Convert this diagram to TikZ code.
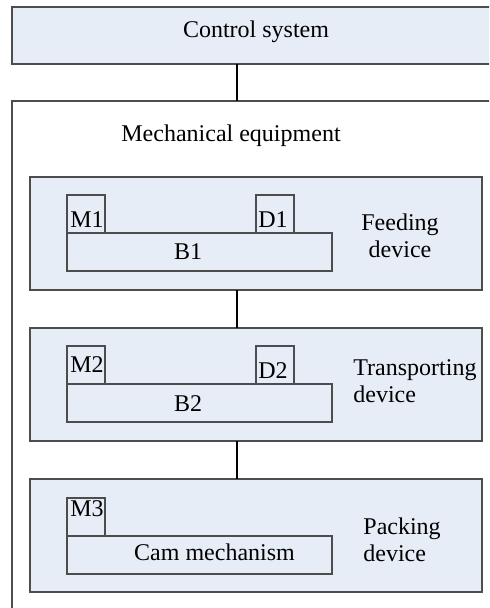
\documentclass[tikz,border=0pt]{standalone}
\usepackage{fontspec}
\setmainfont{Liberation Serif}
\usetikzlibrary{positioning}
\definecolor{pkFill}{HTML}{E7EDF7}
\definecolor{pkLine}{HTML}{4D4D4D}

\begin{document}
\begin{tikzpicture}[
  x=0.5pt, y=-0.5pt, font=\fontsize{12}{13.5}\selectfont,
  box/.style={draw=pkLine, line width=0.6pt, fill=pkFill, inner sep=0pt,
              outer sep=0pt, anchor=north west},
  unit/.style={box, minimum width=226pt, minimum height=56.5pt},
  part/.style={box, minimum width=19pt, minimum height=19pt},
  bar/.style={box, minimum width=132.5pt, minimum height=19pt},
  lbl/.style={inner sep=0pt, anchor=base},
  tag/.style={lbl, anchor=base west},
  ln/.style={draw=black, line width=0.6pt},
]
\useasboundingbox (0,0) rectangle (489,608);
\clip (0,0) rectangle (489,608);

% control and outer frame
\node[box, minimum width=244pt, minimum height=28.5pt] (ctrlbox) at (12,7) {};
\node[box, fill=white, minimum width=244pt, minimum height=259.5pt] (mech) at (12,101) {};
\node[lbl] (ctrl) at (256,37.5) {Control system};
\node[lbl] (mechlbl) at (231,142) {Mechanical equipment};
\coordinate (tx) at (237,0);

% devices
\node[unit] (feed) at (30,177) {};
\node[unit] (trans) at (30,328) {};
\node[unit] (pack) at (30,479) {};

\node[part] (m1) at (67,195) {};
\node[part] (d1) at (256,195) {};
\node[bar] (b1) at (m1.south west) {};
\node[part] (m2) at (67,346) {};
\node[part] (d2) at (256,346) {};
\node[bar] (b2) at (m2.south west) {};
\node[part] (m3) at (67,498) {};
\node[bar] (cam) at (m3.south west) {};

\node[tag] (m1lbl) at (70,228) {M1};
\node[tag] (d1lbl) at (258,228) {D1};
\node[lbl] (b1lbl) at (188,260) {B1};
\node[tag] (m2lbl) at (70,372) {M2};
\node[tag] (d2lbl) at (258,378) {D2};
\node[lbl] (b2lbl) at (188,411) {B2};
\node[tag] (m3lbl) at (70,516) {M3};
\node[lbl] (camlbl) at (214.5,560) {Cam mechanism};

\node[align=center, inner sep=0pt] (feedlbl) at (400,235.3) {Feeding\\device};
\node[align=left, inner sep=0pt, anchor=west] (translbl) at (353,381.3) {Transporting\\device};
\node[align=left, inner sep=0pt, anchor=west] (packlbl) at (363,539.3) {Packing\\device};

% links
\draw[ln] (ctrlbox.south -| tx) -- (mech.north -| tx);
\draw[ln] (feed.south -| tx) -- (trans.north -| tx);
\draw[ln] (trans.south -| tx) -- (pack.north -| tx);
\end{tikzpicture}
\end{document}
